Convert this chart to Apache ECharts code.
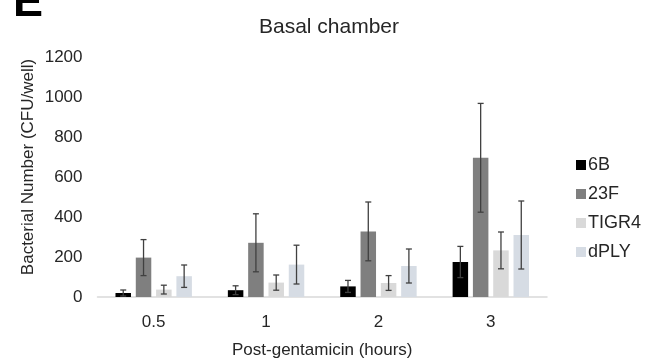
<!DOCTYPE html>
<html>
<head>
<meta charset="utf-8">
<script src="https://cdn.jsdelivr.net/npm/echarts@6/dist/echarts.min.js"></script>
<style>
  html, body { margin: 0; padding: 0; background: #fff; }
  #chart { width: 656px; height: 360px; }
</style>
</head>
<body>
<div id="chart"></div>
<script>
// time points (hours after gentamicin)
const categories = ['0.5', '1', '2', '3']
const strains = ['6B', '23F', 'TIGR4', 'dPLY']

// mean CFU/well per strain
const mean6B = [20, 34, 53, 175]
const mean23F = [197, 271, 328, 696]
const meanTIGR4 = [37, 72, 70, 233]
const meanDPLY = [104, 162, 155, 310]

// error bar half-lengths
const err6B = [15, 22, 30, 78]
const err23F = [90, 145, 147, 272]
const errTIGR4 = [22, 38, 37, 92]
const errDPLY = [56, 97, 85, 170]

const yTicks = [0, 200, 400, 600, 800, 1000, 1200]

const colors = ['#000000', '#7f7f7f', '#d9d9d9', '#d6dce4']
const means = [mean6B, mean23F, meanTIGR4, meanDPLY]
const errs = [err6B, err23F, errTIGR4, errDPLY]

const FONT = '"Liberation Sans", Arial, sans-serif'
const CAT_GAP = 0.32
const BAR_GAP = 0.31

const chart = echarts.init(document.getElementById('chart'))

const barSeries = strains.map((name, i) => ({
  name: name,
  type: 'bar',
  data: means[i],
  barCategoryGap: CAT_GAP * 100 + '%',
  barGap: BAR_GAP * 100 + '%',
  itemStyle: { color: colors[i] },
  emphasis: { disabled: true },
  z: 2,
}))

const errorSeries = strains.map((name, i) => ({
  name: name + ' err',
  type: 'custom',
  data: means[i].map((m, k) => [k, m - errs[i][k], m + errs[i][k]]),
  z: 3,
  silent: true,
  renderItem: (params, api) => {
    const k = api.value(0)
    const lo = api.coord([k, api.value(1)])
    const hi = api.coord([k, api.value(2)])
    const band = api.size([1, 0])[0]
    const groupW = band * (1 - CAT_GAP)
    const barW = groupW / (strains.length + (strains.length - 1) * BAR_GAP)
    const x = lo[0] - groupW / 2 + barW / 2 + i * barW * (1 + BAR_GAP)
    const cap = 3
    const style = { stroke: '#404040', lineWidth: 1.3 }
    return {
      type: 'group',
      children: [
        { type: 'line', shape: { x1: x, y1: lo[1], x2: x, y2: hi[1] }, style },
        { type: 'line', shape: { x1: x - cap, y1: hi[1], x2: x + cap, y2: hi[1] }, style },
        { type: 'line', shape: { x1: x - cap, y1: lo[1], x2: x + cap, y2: lo[1] }, style },
      ],
    }
  },
}))

const option = {
  animation: false,
  textStyle: { fontFamily: FONT },
  title: {
    text: 'Basal chamber',
    left: 324,
    textAlign: 'center',
    top: 12,
    textStyle: { fontSize: 21, fontWeight: 'normal', color: '#262626', fontFamily: FONT },
  },
  graphic: [
    {
      type: 'text',
      x: 13,
      y: 4,
      style: {
        text: 'E',
        font: 'bold 45px ' + FONT,
        fill: '#000',
        verticalAlign: 'middle',
      },
    },
    {
      type: 'text',
      x: 28,
      y: 167,
      rotation: Math.PI / 2,
      style: {
        text: 'Bacterial Number (CFU/well)',
        font: '17px ' + FONT,
        fill: '#262626',
        align: 'center',
        verticalAlign: 'middle',
      },
    },
  ],
  legend: {
    data: strains,
    orient: 'vertical',
    left: 571,
    top: 151,
    itemWidth: 10,
    itemHeight: 10,
    itemGap: 11,
    icon: 'rect',
    selectedMode: false,
    textStyle: { fontSize: 18, color: '#262626', fontFamily: FONT, padding: [0, 0, 0, -3] },
  },
  grid: { left: 97.5, right: 109, top: 57, bottom: 63, outerBoundsMode: 'none' },
  xAxis: {
    type: 'category',
    data: categories,
    name: 'Post-gentamicin (hours)',
    nameLocation: 'middle',
    nameGap: 45,
    nameTextStyle: { fontSize: 17, color: '#262626' },
    axisLine: { lineStyle: { color: '#d9d9d9', width: 1.5 } },
    axisTick: { show: false },
    axisLabel: { fontSize: 17, color: '#262626', margin: 17 },
  },
  yAxis: {
    type: 'value',
    min: yTicks[0],
    max: yTicks[yTicks.length - 1],
    interval: 200,
    axisLine: { show: false },
    axisTick: { show: false },
    splitLine: { show: false },
    axisLabel: { fontSize: 17, color: '#262626', margin: 15, formatter: (v) => String(v) },
  },
  series: [...barSeries, ...errorSeries],
}

chart.setOption(option)
</script>
</body>
</html>
